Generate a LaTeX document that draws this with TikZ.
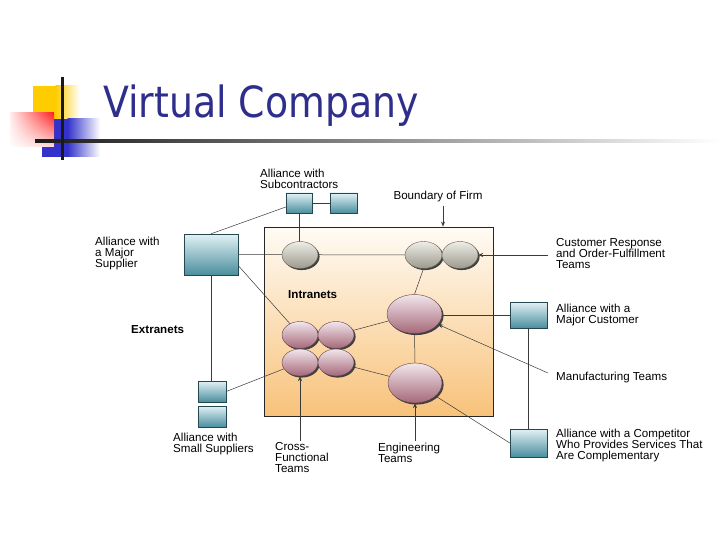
\documentclass[tikz,border=0pt]{standalone}
\usepackage{fontspec}
\usepackage{graphicx}
\setmainfont{Liberation Sans}
\newfontfamily\titlefont{DejaVu Sans}
\usetikzlibrary{shapes.geometric,shadows,fadings,arrows.meta}
\definecolor{tealT}{HTML}{E2F2F5}
\definecolor{tealB}{HTML}{4A8E9E}
\definecolor{grayT}{HTML}{EEEDE6}
\definecolor{grayB}{HTML}{9C998C}
\definecolor{pinkT}{HTML}{F2E6EC}
\definecolor{pinkB}{HTML}{A56878}
\definecolor{firmT}{HTML}{FFFBF5}
\definecolor{firmB}{HTML}{F8C27A}
\definecolor{navy}{HTML}{2E2E8C}
\definecolor{lnc}{HTML}{3A3A3A}
\definecolor{logoY}{HTML}{FFCC00}
\definecolor{logoB}{HTML}{3333CC}
\definecolor{logoR}{HTML}{FF2020}
\newcommand\labfont{\fontsize{11.6}{11}\selectfont}
\begin{document}
\begin{tikzpicture}[x=1pt,y=-1pt,
  tealbox/.style={rectangle, inner sep=0, top color=tealT, bottom color=tealB, draw=tealB!50!black, line width=0.4pt,
    drop shadow={shadow xshift=1.3pt, shadow yshift=-1.3pt, fill=black!80, opacity=1}},
  blob/.style={ellipse, inner sep=0, line width=0.4pt,
    drop shadow={shadow xshift=1.6pt, shadow yshift=-1.6pt, fill=black!75, opacity=1}},
  grayblob/.style={blob, top color=grayT, bottom color=grayB, draw=grayB!60!black},
  pinkblob/.style={blob, top color=pinkT, bottom color=pinkB, draw=pinkB!60!black},
  lab/.style={inner sep=0, align=left, anchor=west, font=\labfont},
  blab/.style={lab, font=\labfont\bfseries},
  conn/.style={draw=lnc, line width=0.5pt},
  arr/.style={conn, -{Stealth[length=5pt,width=4pt]}}
]
\useasboundingbox (0,0) rectangle (720,540);
\fill[white] (0,0) rectangle (720,540);
% logo
\fill[logoY] (33,86) rectangle (56,119);
\shade[left color=logoY, right color=white] (55.5,86) rectangle (80,119);
\fill[logoB] (42,119) rectangle (68,157);
\shade[left color=logoB, right color=white] (67.5,119) rectangle (100,157);
\shade[left color=logoR!8, right color=logoR] (10,113) rectangle (54,147);
\fill[white, opacity=0.85, path fading=north] (10,113) rectangle (54,147);
\shade[left color=black!90, right color=white] (35,140) rectangle (720,142.5);
\fill[black!90] (61,77) rectangle (63.5,160);
% title
\node[anchor=base west, inner sep=0, text=navy] (title) at (103,118)
  {\titlefont\fontsize{43}{43}\selectfont\scalebox{0.88}[1]{Virtual Company}};
% firm boundary
\node[rectangle, inner sep=0, minimum width=229pt, minimum height=189pt, top color=firmT, bottom color=firmB,
  draw=black!85, line width=0.9pt] (firm) at (378.5,321.5) {};
% boxes
\node[tealbox, minimum width=26pt, minimum height=20pt] (sub1) at (299,203) {};
\node[tealbox, minimum width=27pt, minimum height=20pt] (sub2) at (343.5,203) {};
\node[tealbox, minimum width=54pt, minimum height=41pt] (sup) at (211,254.5) {};
\node[tealbox, minimum width=37pt, minimum height=26pt] (mc) at (528.5,315) {};
\node[tealbox, minimum width=37pt, minimum height=28pt] (comp) at (528.5,443) {};
\node[tealbox, minimum width=28pt, minimum height=21pt] (ss1) at (212,391.5) {};
\node[tealbox, minimum width=28pt, minimum height=21pt] (ss2) at (212,416.5) {};
% connectors drawn under ellipses
\draw[conn] (sub1) -- (sub2);
\draw[conn] (sup.north) -- ([yshift=-4pt]sub1.west);
\draw[conn] (sub1.south) -- (sub1.south |- 0,243);
\draw[conn] (sup.east) -- (405,255);
\draw[conn] (mc.west) -- (440,315);
\draw[conn] (mc.south) -- (comp.north);
\draw[conn] (sup.south) -- (sup.south |- ss1.north);
% ellipses
\node[grayblob, minimum width=36pt, minimum height=27pt] (g1) at (300,255) {};
\node[grayblob, minimum width=37pt, minimum height=27pt] (g2a) at (423.5,255) {};
\node[grayblob, minimum width=36pt, minimum height=27pt] (g2b) at (460,255) {};
\node[pinkblob, minimum width=55pt, minimum height=39pt] (pt) at (414.5,314) {};
\node[pinkblob, minimum width=54pt, minimum height=40pt] (pb) at (415,383) {};
\node[pinkblob, minimum width=36pt, minimum height=27pt] (s1) at (300,335) {};
\node[pinkblob, minimum width=36pt, minimum height=27pt] (s2) at (336,335) {};
\node[pinkblob, minimum width=36pt, minimum height=27pt] (s3) at (300,362.5) {};
\node[pinkblob, minimum width=36pt, minimum height=27pt] (s4) at (336,362.5) {};
% connectors between ellipses
\draw[conn] (g2a.south) -- (pt.north);
\draw[conn] (pt.south) -- (pb.north);
\draw[conn] (s2) -- (pt);
\draw[conn] (s4) -- (pb);
\draw[conn] ([yshift=-11pt]sup.east) -- (s1);
\draw[conn] (ss1.east) -- (s3);
\draw[conn] (pb) -- (comp.west);
% labels
\node[lab] (lsub) at (260,178.5) {Alliance with\\Subcontractors};
\node[lab, anchor=center] (bf) at (438,197) {Boundary of Firm};
\node[lab] (lcr) at (556,254) {Customer Response\\and Order-Fulfillment\\Teams};
\node[lab] (lmc) at (556,314.5) {Alliance with a\\Major Customer};
\node[lab] (lmt) at (556,377) {Manufacturing Teams};
\node[lab] (lcomp) at (556,445) {Alliance with a Competitor\\Who Provides Services That\\Are Complementary};
\node[lab] (lsup) at (95,253.5) {Alliance with\\a Major\\Supplier};
\node[blab] (lext) at (131,330) {Extranets};
\node[blab] (lint) at (288,295) {Intranets};
\node[lab] (lss) at (173,443.5) {Alliance with\\Small Suppliers};
\node[lab] (lcf) at (275,458) {Cross-\\Functional\\Teams};
\node[lab] (let) at (378,452.5) {Engineering\\Teams};
% arrows
\coordinate (crend) at (548,255);
\coordinate (mtend) at (548,373);
\coordinate (etend) at (415,441);
\coordinate (cfend) at (300,441);
\draw[arr] (crend) -- (g2b.east);
\draw[arr] ([xshift=5pt,yshift=-3pt]bf.south) -- ([xshift=5pt]bf.south |- firm.north);
\draw[arr] (mtend) -- (pt);
\draw[arr] (etend) -- (pb.south);
\draw[arr] (cfend) -- (s3.south);
\end{tikzpicture}
\end{document}
